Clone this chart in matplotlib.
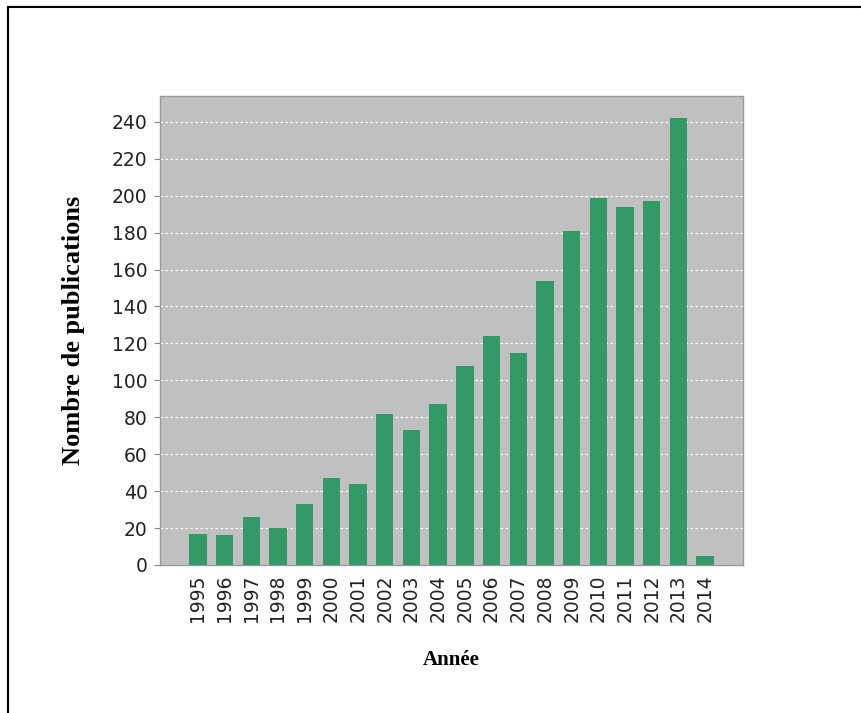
import matplotlib
matplotlib.use('Agg')
from matplotlib import pyplot as plt
from matplotlib.lines import Line2D
import numpy as np

years = ['1995', '1996', '1997', '1998', '1999', '2000', '2001', '2002', '2003', '2004',
         '2005', '2006', '2007', '2008', '2009', '2010', '2011', '2012', '2013', '2014']
publications = [17, 16, 26, 20, 33, 47, 44, 82, 73, 87,
                108, 124, 115, 154, 181, 199, 194, 197, 242, 5]
y_ticks = [0, 20, 40, 60, 80, 100, 120, 140, 160, 180, 200, 220, 240]

fig = plt.figure(figsize=(8.61, 7.13), dpi=100)
ax = fig.add_axes([0.1858, 0.2076, 0.863 - 0.1858, 0.8654 - 0.2076])
ax.set_facecolor('#c0c0c0')

x = np.arange(len(years))
ax.bar(x, publications, width=0.65, color='#339966', zorder=3)

ax.set_xlim(-1.42, len(years) - 1 + 1.42)
ax.set_ylim(0, 254)
ax.set_yticks(y_ticks)
ax.set_xticks(x)
ax.set_xticklabels(years, rotation=90)
ax.yaxis.grid(True, color='white', linestyle=(0, (2, 2)), linewidth=0.9, zorder=1)
ax.xaxis.grid(False)

ax.tick_params(axis='both', labelsize=13.5, colors='#222222', length=4, width=0.8)
ax.tick_params(axis='x', length=0, pad=7)
ax.tick_params(axis='y', color='#888888', pad=5)
for side in ['left', 'bottom', 'top', 'right']:
    ax.spines[side].set_color('#999999')
    ax.spines[side].set_linewidth(1.0)

ax.set_ylabel('Nombre de publications', family='Liberation Serif', fontweight='bold',
              fontsize=19, labelpad=19)
ax.set_xlabel('Ann\u00e9e', family='Liberation Serif', fontweight='bold',
              fontsize=15, labelpad=20)

# outer frame (left and top edges only, like the source)
fig.add_artist(Line2D([0.009, 0.009], [0, 0.990], transform=fig.transFigure,
                      color='black', linewidth=1.5))
fig.add_artist(Line2D([0.009, 1.0], [0.990, 0.990], transform=fig.transFigure,
                      color='black', linewidth=1.5))

fig.savefig('out.png', dpi=100)
